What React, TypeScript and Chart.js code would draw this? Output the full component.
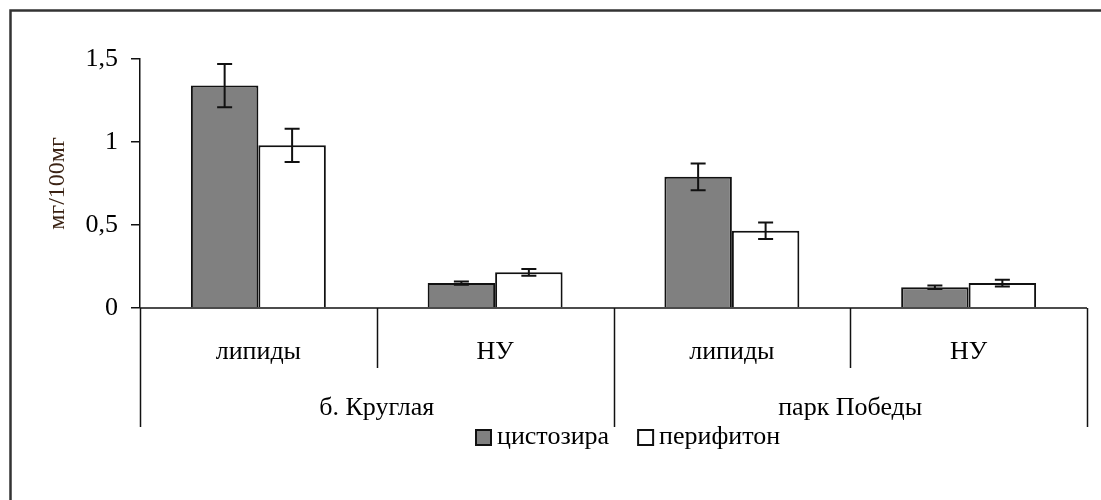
import { useEffect, useRef } from "react";
import { Chart, registerables } from "chart.js";

Chart.register(...registerables);

const categories = ["липиды", "НУ", "липиды", "НУ"];
const groups = ["б. Круглая", "парк Победы"];
const seriesNames = ["цистозира", "перифитон"];
const cistozira = [1.34, 0.15, 0.79, 0.125];
const cistoziraErr = [0.13, 0.01, 0.08, 0.01];
const perifiton = [0.98, 0.215, 0.465, 0.15];
const perifitonErr = [0.1, 0.02, 0.05, 0.02];
const yTickValues = [0, 0.5, 1, 1.5];
const yTickLabels = ["0", "0,5", "1", "1,5"];
const yTitle = "мг/100мг";

const FONT = "'Liberation Serif', 'Times New Roman', serif";
const INK = "#000";

const errors = [cistoziraErr, perifitonErr];

const customPlugin = {
  id: "custom",
  beforeDraw(chart: any) {
    const ctx = chart.ctx;
    ctx.save();
    ctx.fillStyle = "#fff";
    ctx.fillRect(0, 0, chart.width, chart.height);
    ctx.restore();
  },
  afterDatasetsDraw(chart: any) {
    const ctx = chart.ctx;
    const y = chart.scales.y;
    ctx.save();
    ctx.strokeStyle = "#111";
    ctx.lineWidth = 2;
    chart.data.datasets.forEach((ds: any, di: number) => {
      const meta = chart.getDatasetMeta(di);
      meta.data.forEach((el: any, i: number) => {
        const v = ds.data[i];
        const e = errors[di][i];
        const yt = y.getPixelForValue(v + e);
        const yb = y.getPixelForValue(v - e);
        const x = el.x;
        const cap = 7.5;
        ctx.beginPath();
        ctx.moveTo(x, yt);
        ctx.lineTo(x, yb);
        ctx.moveTo(x - cap, yt);
        ctx.lineTo(x + cap, yt);
        ctx.moveTo(x - cap, yb);
        ctx.lineTo(x + cap, yb);
        ctx.stroke();
      });
    });
    ctx.restore();
  },
  afterDraw(chart: any) {
    const ctx = chart.ctx;
    const xs = chart.scales.x;
    const ys = chart.scales.y;
    const y0 = ys.getPixelForValue(0);
    const left = xs.getPixelForValue(-0.5);
    const right = xs.getPixelForValue(categories.length - 0.5);
    ctx.save();
    // x axis line
    ctx.strokeStyle = "#111";
    ctx.lineWidth = 1.5;
    ctx.beginPath();
    ctx.moveTo(left, y0);
    ctx.lineTo(right, y0);
    ctx.stroke();
    // separators
    for (let i = 0; i <= categories.length; i++) {
      const x = Math.round(xs.getPixelForValue(i - 0.5)) + 0.5;
      const long = i % 2 === 0;
      ctx.beginPath();
      ctx.moveTo(x, y0);
      ctx.lineTo(x, y0 + (long ? 119 : 60));
      ctx.stroke();
    }
    // category labels
    ctx.fillStyle = INK;
    ctx.textAlign = "center";
    ctx.textBaseline = "middle";
    ctx.font = `26px ${FONT}`;
    categories.forEach((c, i) => {
      ctx.fillText(c, xs.getPixelForValue(i), y0 + 44);
    });
    groups.forEach((g, gi) => {
      const a = xs.getPixelForValue(gi * 2 - 0.5);
      const b = xs.getPixelForValue(gi * 2 + 1.5);
      ctx.fillText(g, (a + b) / 2, y0 + 100);
    });
    // legend
    ctx.font = `26px ${FONT}`;
    ctx.textAlign = "left";
    let lx = 475;
    const ly = y0 + 129;
    chart.data.datasets.forEach((ds: any, di: number) => {
      ctx.fillStyle = ds.backgroundColor;
      ctx.fillRect(lx, ly - 8, 17, 17);
      ctx.lineWidth = 2;
      ctx.strokeStyle = "#111";
      ctx.strokeRect(lx + 1, ly - 7, 15, 15);
      lx += 22;
      ctx.fillStyle = INK;
      ctx.fillText(seriesNames[di], lx, ly);
      lx += ctx.measureText(seriesNames[di]).width + 28;
    });
    // outer frame
    ctx.strokeStyle = "#333";
    ctx.lineWidth = 2.5;
    ctx.strokeRect(10.5, 10.5, chart.width + 20, chart.height + 20);
    ctx.restore();
  },
};

export default function App() {
  const ref = useRef<HTMLCanvasElement | null>(null);
  useEffect(() => {
    if (!ref.current) return;
    const chart = new Chart(ref.current, {
      type: "bar",
      data: {
        labels: categories,
        datasets: [
          {
            label: seriesNames[0],
            data: cistozira,
            backgroundColor: "#808080",
            borderColor: "#111",
            borderWidth: 2,
            categoryPercentage: 0.57,
            barPercentage: 1.0,
          },
          {
            label: seriesNames[1],
            data: perifiton,
            backgroundColor: "#ffffff",
            borderColor: "#111",
            borderWidth: 2,
            categoryPercentage: 0.57,
            barPercentage: 1.0,
          },
        ],
      },
      options: {
        animation: false,
        responsive: false,
        maintainAspectRatio: false,
        layout: { padding: { left: 0, top: 59, right: 14, bottom: 192 } },
        plugins: {
          legend: { display: false },
          tooltip: { enabled: false },
        },
        scales: {
          x: { display: false },
          y: {
            min: 0,
            max: 1.5,
            afterFit: (s: any) => {
              s.width = 140;
            },
            afterBuildTicks: (s: any) => {
              s.ticks = yTickValues.map((v) => ({ value: v }));
            },
            ticks: {
              padding: 13,
              color: INK,
              font: { family: FONT, size: 26 },
              callback: (v: any) => {
                const i = yTickValues.indexOf(Number(v));
                return i >= 0 ? yTickLabels[i] : "";
              },
            },
            grid: {
              drawOnChartArea: false,
              drawTicks: true,
              tickLength: 9,
              color: "#111",
              lineWidth: 1.5,
            },
            border: { display: true, color: "#111", width: 1.5 },
            title: {
              display: true,
              text: yTitle,
              color: "#3b2314",
              font: { family: FONT, size: 24 },
              padding: { top: 43, bottom: 0 },
            },
          },
        },
      },
      plugins: [customPlugin],
    });
    return () => chart.destroy();
  }, []);
  return (
    <div style={{ position: "absolute", left: 0, top: 0, width: 1101, height: 500 }}>
      <canvas ref={ref} width={1101} height={500} style={{ width: 1101, height: 500, display: "block" }} />
    </div>
  );
}
